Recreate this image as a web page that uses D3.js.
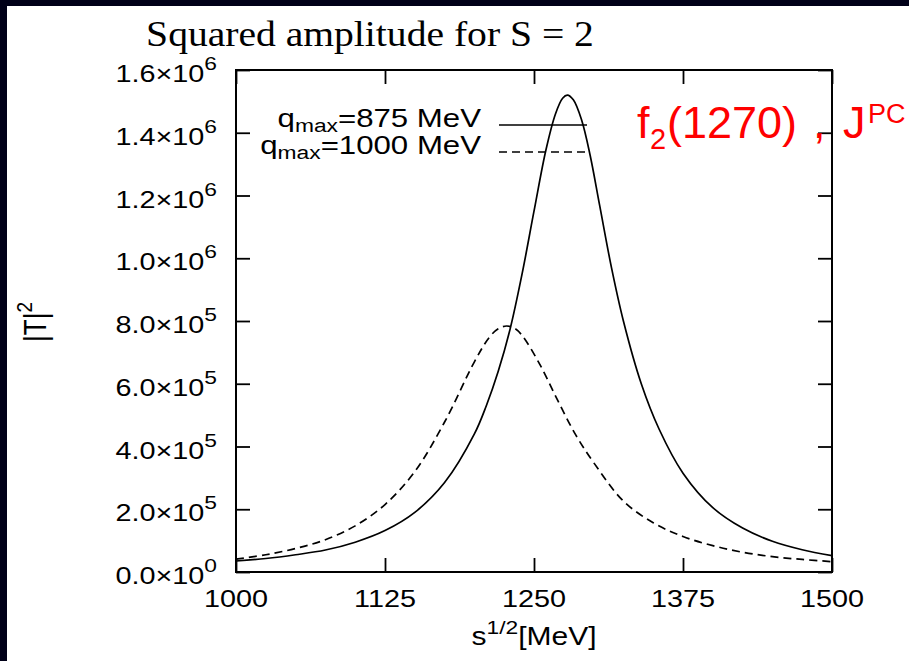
<!DOCTYPE html>
<html>
<head>
<meta charset="utf-8">
<script src="https://cdn.jsdelivr.net/npm/d3@7"></script>
<style>
body { margin: 0; background: #000018; }
text { font-family: "Liberation Sans", Arial, sans-serif; }
</style>
</head>
<body>
<svg id="chart" width="909" height="661"></svg>
<script>
// values
var energy875 = [1000, 1025, 1050, 1075, 1100, 1125, 1150, 1175, 1200, 1210, 1220, 1230, 1240, 1250, 1260, 1268,
    1274, 1278, 1283, 1290, 1297, 1305, 1315, 1325, 1340, 1355, 1375, 1400, 1425, 1450, 1475, 1500];
var amp875 = [35e3, 43e3, 55e3, 70e3, 95e3, 132e3, 190e3, 285e3, 440e3, 530e3, 640e3, 775e3, 950e3, 1150e3, 1345e3, 1460e3,
    1510e3, 1520e3, 1505e3, 1440e3, 1330e3, 1170e3, 970e3, 800e3, 600e3, 455e3, 315e3, 205e3, 140e3, 98e3, 71e3, 52e3];

var energy1000 = [1000, 1025, 1050, 1075, 1100, 1125, 1150, 1175, 1200, 1212.5, 1220, 1227, 1234, 1240, 1255,
    1270, 1285, 1300, 1325, 1350, 1375, 1400, 1425, 1450, 1475, 1500];
var amp1000 = [41e3, 55e3, 75e3, 103e3, 147e3, 215e3, 320e3, 478e3, 670e3, 748e3, 775e3, 784e3, 776e3, 754e3, 661e3,
    546e3, 437e3, 349e3, 226e3, 157e3, 113e3, 84e3, 63e3, 49e3, 40e3, 33e3];

var xTicks = [1000, 1125, 1250, 1375, 1500];
var yTicks = [0, 2e5, 4e5, 6e5, 8e5, 1e6, 1.2e6, 1.4e6, 1.6e6];
var yMant = ["0.0", "2.0", "4.0", "6.0", "8.0", "1.0", "1.2", "1.4", "1.6"];
var yExp = ["0", "5", "5", "5", "5", "6", "6", "6", "6"];
var legendLabels = ["=875 MeV", "=1000 MeV"];

var svg = d3.select("#chart");
var stretch = 1.2;  // the gnuplot part of the slide is drawn a bit wide

svg.append("rect").attr("width", 909).attr("height", 661).style("fill", "#000018");
svg.append("rect").attr("x", 7).attr("y", 6).attr("width", 902).attr("height", 655).style("fill", "white");

var x = d3.scaleLinear().domain([1000, 1500]).range([236, 832]);
var y = d3.scaleLinear().domain([0, 1.6e6]).range([572, 70]);

function stext(px, py, anchor, sx) {
    return svg.append("text")
    .attr("transform", "translate(" + px + "," + py + ") scale(" + (sx || stretch) + ",1)")
    .attr("text-anchor", anchor)
    .style("fill", "black");
}

// inward ticks on all four sides
var tick = 14;
var axes = [
    [d3.axisBottom(x).tickValues(xTicks), "translate(0,572)"],
    [d3.axisTop(x).tickValues(xTicks), "translate(0,70)"],
    [d3.axisLeft(y).tickValues(yTicks), "translate(236,0)"],
    [d3.axisRight(y).tickValues(yTicks), "translate(832,0)"]
];
axes.forEach(function(a) {
    var g = svg.append("g").attr("transform", a[1])
    .call(a[0].tickSizeInner(-tick).tickSizeOuter(0).tickFormat(""));
    g.select(".domain").remove();
    g.selectAll("line").style("stroke", "black").style("stroke-width", 1.8);
});

svg.append("rect")
.attr("x", x(1000)).attr("y", y(1.6e6))
.attr("width", x(1500) - x(1000)).attr("height", y(0) - y(1.6e6))
.style("fill", "none").style("stroke", "black").style("stroke-width", 2);

// tick labels
xTicks.forEach(function(t) {
    stext(x(t), 607, "middle").style("font-size", "24px").text(t);
});
yTicks.forEach(function(t, i) {
    var lab = stext(217, y(t) + 12, "end").style("font-size", "24px");
    lab.append("tspan").text(yMant[i] + "\u00d710");
    lab.append("tspan").attr("dy", -12).style("font-size", "19px").text(yExp[i]);
});

// axis titles
var xt = stext(534, 645, "middle").style("font-size", "25px");
xt.append("tspan").text("s");
xt.append("tspan").attr("dy", -11).style("font-size", "19px").text("1/2");
xt.append("tspan").attr("dy", 11).text("[MeV]");

var yt = svg.append("text")
.attr("transform", "translate(46,322) scale(" + stretch + ",1) rotate(-90)")
.attr("text-anchor", "middle").style("font-size", "26px");
yt.append("tspan").text("|T|");
yt.append("tspan").attr("dy", -12).style("font-size", "19px").text("2");

// title
stext(370, 46, "middle", 1.1)
.style("font-family", "'Liberation Serif', 'Times New Roman', serif")
.style("font-size", "36px")
.text("Squared amplitude for S = 2");

// curves
var line = d3.line()
.curve(d3.curveCatmullRom.alpha(0.5))
.x(function(d) { return x(d[0]); })
.y(function(d) { return y(d[1]); });

svg.append("clipPath").attr("id", "plotclip").append("rect")
.attr("x", 236).attr("y", 70).attr("width", 596).attr("height", 502);

svg.append("path")
.datum(d3.zip(energy875, amp875))
.attr("d", line)
.attr("clip-path", "url(#plotclip)")
.style("fill", "none").style("stroke", "black").style("stroke-width", 1.7);

svg.append("path")
.datum(d3.zip(energy1000, amp1000))
.attr("d", line)
.attr("clip-path", "url(#plotclip)")
.style("fill", "none").style("stroke", "black").style("stroke-width", 1.7)
.style("stroke-dasharray", "8,5");

// legend
var legY = [125, 152];
legendLabels.forEach(function(lab, i) {
    var t = stext(481, legY[i] + 2, "end").style("font-size", "26px");
    t.append("tspan").text("q");
    t.append("tspan").attr("dy", 5).style("font-size", "19px").text("max");
    t.append("tspan").attr("dy", -5).text(lab);
    svg.append("line")
    .attr("x1", 499).attr("x2", 587)
    .attr("y1", legY[i]).attr("y2", legY[i])
    .style("stroke", "black").style("stroke-width", 1.7)
    .style("stroke-dasharray", i == 0 ? null : "8,5");
});

// red annotation
var red = svg.append("text").style("fill", "#ff0000").style("font-size", "45px");
red.append("tspan").attr("x", 637).attr("y", 138).text("f");
red.append("tspan").attr("x", 650).attr("y", 149).style("font-size", "29px").text("2");
red.append("tspan").attr("x", 667).attr("y", 138).text("(1270)");
red.append("tspan").attr("x", 813).attr("y", 138).text(",");
red.append("tspan").attr("x", 843).attr("y", 138).text("J");
red.append("tspan").attr("x", 868).attr("y", 123).style("font-size", "27px").text("PC");
</script>
</body>
</html>
